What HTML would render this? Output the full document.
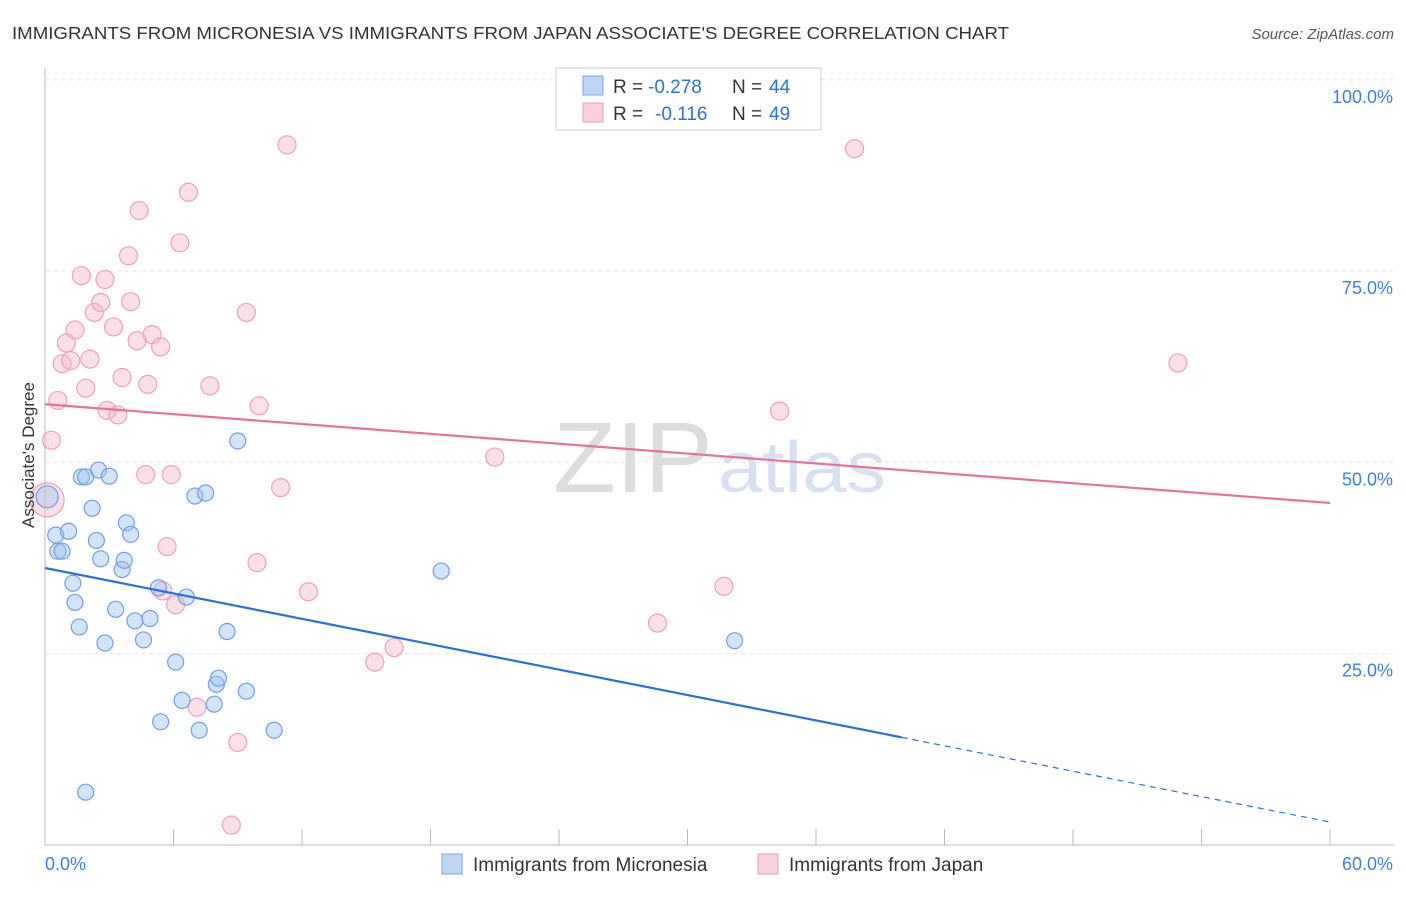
<!DOCTYPE html>
<html><head><meta charset="utf-8"><style>
body{margin:0;background:#fff;font-family:"Liberation Sans",sans-serif}
svg text{font-family:"Liberation Sans",sans-serif}
</style></head><body>
<svg id="c" width="1406" height="892" xmlns="http://www.w3.org/2000/svg">
<text x="12" y="39" font-size="17.5" fill="#333" textLength="997" lengthAdjust="spacingAndGlyphs">IMMIGRANTS FROM MICRONESIA VS IMMIGRANTS FROM JAPAN ASSOCIATE'S DEGREE CORRELATION CHART</text>
<text x="1394" y="39" font-size="15" fill="#555" font-style="italic" text-anchor="end">Source: ZipAtlas.com</text>
<text x="553" y="492" font-size="100" fill="#ddd" font-family="Liberation Serif" textLength="160" lengthAdjust="spacingAndGlyphs">ZIP</text>
<text x="718" y="492" font-size="72" fill="#d6e2f2" textLength="168" lengthAdjust="spacingAndGlyphs">atlas</text>
<g id="grid"></g><g id="pts"></g><g id="lines"></g>
<text transform="translate(34,455) rotate(-90)" font-size="17" fill="#333" text-anchor="middle">Associate's Degree</text>
<g>
<rect x="556" y="68" width="265" height="62" fill="#fff" stroke="#ccc"/>
<rect x="583" y="76" width="20" height="19" fill="#bcd5f5" stroke="#7aa7e6"/>
<rect x="583" y="103" width="20" height="19" fill="#fbd0dd" stroke="#ee9bb5"/>
<text x="613" y="93" font-size="19" fill="#333">R =</text>
<text x="648" y="93" font-size="19" fill="#2f6fd6">-0.278</text>
<text x="732" y="93" font-size="19" fill="#333">N =</text>
<text x="769" y="93" font-size="19" fill="#2f6fd6">44</text>
<text x="613" y="120" font-size="19" fill="#333">R =</text>
<text x="655" y="120" font-size="19" fill="#2f6fd6">-0.116</text>
<text x="732" y="120" font-size="19" fill="#333">N =</text>
<text x="769" y="120" font-size="19" fill="#2f6fd6">49</text>
</g>
<g>
<rect x="442" y="854" width="20" height="20" fill="#bcd5f5" stroke="#7aa7e6"/>
<text x="473" y="871" font-size="19" fill="#333">Immigrants from Micronesia</text>
<rect x="758" y="854" width="20" height="20" fill="#fbd0dd" stroke="#ee9bb5"/>
<text x="789" y="871" font-size="19" fill="#333">Immigrants from Japan</text>
</g>
</svg>
<script>
const xTicks=[0,6,12,18,24,30,36,42,48,54,60];
const yTicks=[25,50,75,100];
const blueX=[0.1,0.5,0.6,0.8,1.1,1.3,1.4,1.6,1.7,1.9,2.2,2.4,2.5,2.6,2.8,3.0,3.3,3.6,3.7,3.8,4.0,4.2,4.6,4.9,5.3,5.4,6.1,6.4,6.6,7.0,7.2,7.5,7.9,8.0,8.1,8.5,9.0,9.4,10.7,1.9,18.5,32.2];
const blueY=[45.5,40.5,38.4,38.4,41.0,34.2,31.7,28.5,48.1,48.1,44.0,39.8,49.0,37.4,26.4,48.2,30.8,36.0,37.2,42.1,40.6,29.3,26.8,29.6,33.6,16.1,23.9,18.9,32.4,45.6,15.0,46.0,18.4,21.0,21.8,27.9,52.8,20.1,15.0,6.9,35.8,26.7];
const blueR=[11,8,8,8,8,8,8,8,8,8,8,8,8,8,8,8,8,8,8,8,8,8,8,8,8,8,8,8,8,8,8,8,8,8,8,8,8,8,8,8,8,8];
const pinkX=[0.1,0.3,0.6,0.8,1.0,1.2,1.4,1.7,1.9,2.1,2.3,2.6,2.8,2.9,3.2,3.4,3.6,3.9,4.0,4.3,4.4,4.8,4.7,5.0,5.4,5.7,5.5,5.9,6.1,6.3,6.7,7.1,7.7,9.0,8.7,9.4,9.9,10.0,11.0,11.3,12.3,15.4,16.3,21.0,28.6,31.7,34.3,37.8,52.9];
const pinkY=[45.1,52.9,58.1,62.9,65.6,63.3,67.3,74.4,59.7,63.5,69.6,70.9,73.9,56.8,67.7,56.2,61.1,77.0,71.0,65.9,82.9,60.2,48.4,66.7,65.1,39.0,33.2,48.4,31.4,78.7,85.3,18.0,60.0,13.4,2.6,69.6,36.9,57.4,46.7,91.5,33.1,23.9,25.8,50.7,29.0,33.8,56.7,91.0,63.0];
const pinkR=[17,9,9,9,9,9,9,9,9,9,9,9,9,9,9,9,9,9,9,9,9,9,9,9,9,9,9,9,9,9,9,9,9,9,9,9,9,9,9,9,9,9,9,9,9,9,9,9,9];
const blueFit=[36.2,3.0]; const pinkFit=[57.6,44.7];
const X=v=>45+v*21.417, Y=v=>845-v*7.652;
const NS="http://www.w3.org/2000/svg";
function mk(t,a,p){const e=document.createElementNS(NS,t);for(const k in a)e.setAttribute(k,a[k]);p.appendChild(e);return e;}
const g=document.getElementById('grid');
mk('line',{x1:45,y1:68,x2:45,y2:845,stroke:'#bbb'},g);
mk('line',{x1:45,y1:845,x2:1394,y2:845,stroke:'#bbb'},g);
xTicks.forEach(t=>{const l=mk('line',{x1:X(t),y1:829,x2:X(t),y2:845,stroke:'#bbb'},g);

});
yTicks.forEach(t=>{const l=mk('line',{x1:45,y1:Y(t),x2:1394,y2:Y(t),stroke:'#e2e2e2','stroke-dasharray':'4,4'},g);


const tx=mk('text',{x:1393,y:Y(t)+23,'font-size':18,fill:'#3f7fdc','text-anchor':'end'},g);tx.textContent=t.toFixed(1)+'%';

});
[[0,45,'start'],[60,1393,'end']].forEach(([v,x,a])=>{const t=mk('text',{x:x,y:870,'font-size':18,fill:'#3f7fdc','text-anchor':a},g);t.textContent=v.toFixed(1)+'%';

});
const p=document.getElementById('pts');
pinkX.forEach((v,i)=>{const c=mk('circle',{cx:X(v),cy:Y(pinkY[i]),r:pinkR[i],fill:'rgba(247,178,199,0.4)',stroke:'#efa0b8','stroke-width':1.2},p);

});
blueX.forEach((v,i)=>{const c=mk('circle',{cx:X(v),cy:Y(blueY[i]),r:blueR[i],fill:'rgba(160,196,240,0.45)',stroke:'#6f9fe0','stroke-width':1.2},p);

});
const L=document.getElementById('lines');
const by=x=>blueFit[0]+(blueFit[1]-blueFit[0])*x/60;
let a=mk('line',{x1:X(0),y1:Y(by(0)),x2:X(40),y2:Y(by(40)),stroke:'#2c6fd8','stroke-width':2.2},L);


a=mk('line',{x1:X(40),y1:Y(by(40)),x2:X(60),y2:Y(by(60)),stroke:'#2c6fd8','stroke-width':1.2,'stroke-dasharray':'6,5'},L);


a=mk('line',{x1:X(0),y1:Y(pinkFit[0]),x2:X(60),y2:Y(pinkFit[1]),stroke:'#e8709a','stroke-width':2.2},L);


</script>
</body></html>
